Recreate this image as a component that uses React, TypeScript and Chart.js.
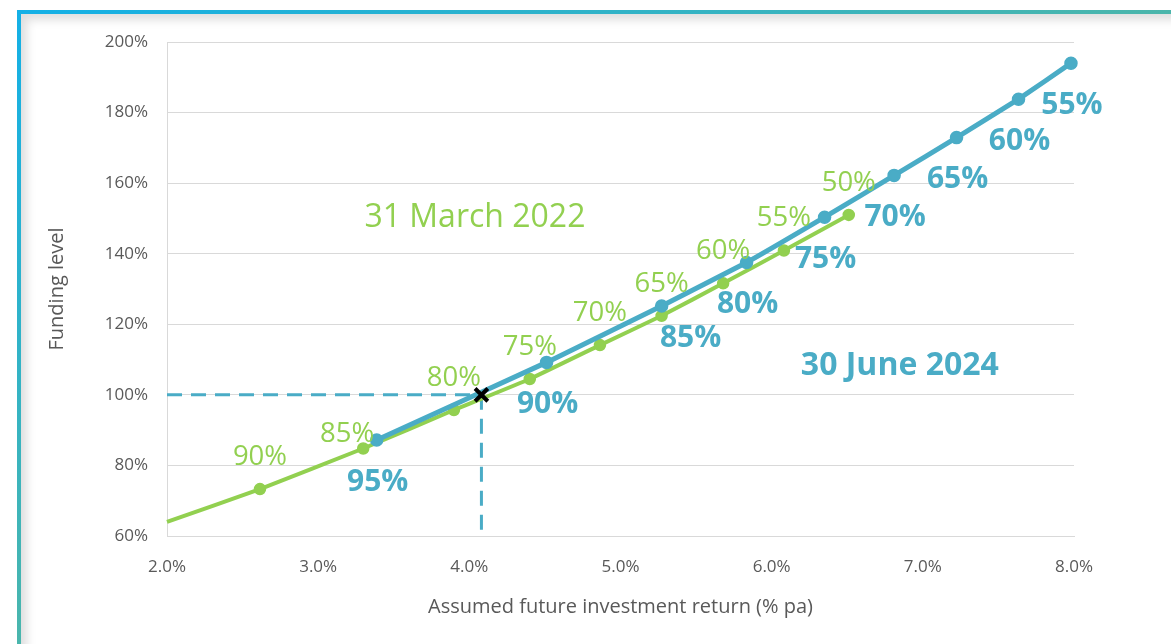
import React, { useEffect, useRef } from 'react';
import { Chart, registerables } from 'chart.js';

Chart.register(...registerables);

// ---- Data ----
// 31 March 2022 series (green)
const march2022Returns = [2.0, 2.615, 3.298, 3.898, 4.4, 4.864, 5.272, 5.679, 6.081, 6.51];
const march2022Funding = [64.0, 73.3, 84.8, 95.7, 104.5, 114.1, 122.4, 131.6, 140.9, 151.0];
const march2022Labels = ['', '90%', '85%', '80%', '75%', '70%', '65%', '60%', '55%', '50%'];

// 30 June 2024 series (blue)
const june2024Returns = [3.387, 4.511, 5.272, 5.834, 6.35, 6.81, 7.223, 7.633, 7.98];
const june2024Funding = [87.2, 109.2, 125.2, 137.5, 150.35, 162.2, 172.9, 183.8, 194.0];
const june2024Labels = ['95%', '90%', '85%', '80%', '75%', '70%', '65%', '60%', '55%'];

// 100% funding break-even marker
const breakEvenReturn = [4.08];
const breakEvenFunding = [100];

// Axes
const xMin = 2, xMax = 8, xStep = 1;
const yMin = 60, yMax = 200, yStep = 20;

// Text annotations (data coordinates)
const annotationTexts = ['31 March 2022', '30 June 2024'];
const annotationReturns = [4.037, 6.848];
const annotationFunding = [150.9, 108.9];

// ---- Styles ----
const FONT = '"Open Sans", "Noto Sans", sans-serif';
const BLUE = '#4aacc6';
const GREEN = '#92d050';
const AXIS_TEXT = '#595959';
const GRID = '#d9d9d9';

const annotationStyles = [
  { color: GREEN, weight: '400', size: 32 },
  { color: BLUE, weight: '700', size: 32 },
];

const greenLabelStyle = {
  color: GREEN, weight: '400', size: 27.5, dx: 0, dy: -34,
  nudges: { '85%': { dx: -16, dy: -16 } } as Record<string, { dx: number; dy: number }>,
};
const blueLabelStyle = {
  color: BLUE, weight: '700', size: 30, dx: 1, dy: 40,
  nudges: { '85%': { dx: 29, dy: 30 } } as Record<string, { dx: number; dy: number }>,
};

const toPoints = (xs: number[], ys: number[]) => xs.map((x, i) => ({ x, y: ys[i] }));

const labelPlugin = {
  id: 'pointTextLabels',
  afterDatasetsDraw(chart: any) {
    const ctx = chart.ctx as CanvasRenderingContext2D;
    chart.data.datasets.forEach((ds: any, i: number) => {
      if (!ds.pointTexts) return;
      const meta = chart.getDatasetMeta(i);
      const st = ds.pointTextStyle;
      ctx.save();
      ctx.font = `${st.weight} ${st.size}px ${FONT}`;
      ctx.fillStyle = st.color;
      ctx.textAlign = 'center';
      ctx.textBaseline = 'alphabetic';
      meta.data.forEach((el: any, j: number) => {
        const text = ds.pointTexts[j];
        if (!text) return;
        const n = st.nudges[text] || { dx: st.dx, dy: st.dy };
        ctx.fillText(text, el.x + n.dx, el.y + n.dy + st.size * 0.357);
      });
      ctx.restore();
    });
    const xs = chart.scales.x;
    const ys = chart.scales.y;
    annotationTexts.forEach((t, i) => {
      const st = annotationStyles[i];
      ctx.save();
      ctx.font = `${st.weight} ${st.size}px ${FONT}`;
      ctx.fillStyle = st.color;
      ctx.textAlign = 'center';
      ctx.textBaseline = 'alphabetic';
      const px = xs.getPixelForValue(annotationReturns[i]);
      const py = ys.getPixelForValue(annotationFunding[i]);
      ctx.fillText(t, px, py + st.size * 0.357);
      ctx.restore();
    });
  },
};

export default function App() {
  const ref = useRef<HTMLCanvasElement>(null);

  useEffect(() => {
    if (!ref.current) return;
    const chart = new Chart(ref.current, {
      type: 'line',
      data: {
        datasets: [
          {
            label: 'Break-even',
            data: toPoints(breakEvenReturn, breakEvenFunding),
            showLine: false,
            pointStyle: 'crossRot',
            pointRadius: 9,
            pointBorderWidth: 4,
            borderColor: '#000',
            backgroundColor: '#000',
            clip: false,
            order: 0,
          },
          {
            label: '30 June 2024',
            data: toPoints(june2024Returns, june2024Funding),
            borderColor: BLUE,
            backgroundColor: BLUE,
            borderWidth: 5,
            pointRadius: 6,
            pointBorderWidth: 1.5,
            pointBorderColor: BLUE,
            pointBackgroundColor: BLUE,
            tension: 0.1,
            clip: false,
            order: 1,
            pointTexts: june2024Labels,
            pointTextStyle: blueLabelStyle,
          } as any,
          {
            label: '31 March 2022',
            data: toPoints(march2022Returns, march2022Funding),
            borderColor: GREEN,
            backgroundColor: GREEN,
            borderWidth: 4,
            pointRadius: march2022Labels.map((l) => (l ? 5.5 : 0)),
            pointBorderWidth: 1.5,
            pointBorderColor: GREEN,
            pointBackgroundColor: GREEN,
            tension: 0.1,
            clip: false,
            order: 2,
            pointTexts: march2022Labels,
            pointTextStyle: greenLabelStyle,
          } as any,
          {
            label: 'guide-h',
            data: [
              { x: xMin, y: breakEvenFunding[0] },
              { x: breakEvenReturn[0], y: breakEvenFunding[0] },
            ],
            borderColor: BLUE,
            borderWidth: 3,
            borderDash: [15, 9],
            pointRadius: 0,
            order: 3,
          },
          {
            label: 'guide-v',
            data: [
              { x: breakEvenReturn[0], y: breakEvenFunding[0] },
              { x: breakEvenReturn[0], y: yMin },
            ],
            borderColor: BLUE,
            borderWidth: 3,
            borderDash: [15, 9],
            pointRadius: 0,
            order: 3,
          },
        ],
      },
      options: {
        animation: false,
        responsive: false,
        devicePixelRatio: 1,
        layout: { padding: { left: 0, top: 42, right: 97, bottom: 0 } },
        plugins: { legend: { display: false }, tooltip: { enabled: false } },
        scales: {
          x: {
            type: 'linear',
            min: xMin,
            max: xMax,
            grid: { display: false, drawTicks: false },
            border: { display: true, color: GRID, width: 1 },
            ticks: {
              stepSize: xStep,
              padding: 21,
              color: AXIS_TEXT,
              font: { family: FONT, size: 17 },
              callback: (v: any) => Number(v).toFixed(1) + '%',
            },
            title: {
              display: true,
              text: 'Assumed future investment return (% pa)',
              color: AXIS_TEXT,
              font: { family: FONT, size: 20 },
              padding: { top: 0, bottom: 25 },
            },
            afterFit: (s: any) => { s.width; s.height = 108; },
          },
          y: {
            type: 'linear',
            min: yMin,
            max: yMax,
            grid: { color: GRID, lineWidth: 1, drawTicks: false },
            border: { display: true, color: GRID, width: 1 },
            ticks: {
              stepSize: yStep,
              padding: 19,
              color: AXIS_TEXT,
              font: { family: FONT, size: 17 },
              callback: (v: any) => v + '%',
            },
            title: {
              display: true,
              text: 'Funding level',
              color: AXIS_TEXT,
              font: { family: FONT, size: 20 },
              padding: { top: 45, bottom: 0 },
            },
            afterFit: (s: any) => { s.width = 167; },
          },
        },
      },
      plugins: [labelPlugin],
    } as any);
    return () => chart.destroy();
  }, []);

  return (
    <div style={{ position: 'fixed', left: 0, top: 0, width: 1171, height: 644, background: '#fff', overflow: 'hidden' }}>
      <div
        style={{
          position: 'absolute',
          left: 17,
          top: 10,
          width: 1190,
          height: 670,
          boxSizing: 'border-box',
          borderStyle: 'solid',
          borderWidth: '4px 0 0 4px',
          borderImage: 'linear-gradient(to bottom right, #14b0e6 0%, #4db6a9 50%, #4db6a9 100%) 1',
          boxShadow: 'inset 6px 6px 10px rgba(0,0,0,0.13)',
          background: '#fff',
        }}
      />
      <canvas ref={ref} width={1171} height={644} style={{ position: 'absolute', left: 0, top: 0, width: 1171, height: 644 }} />
    </div>
  );
}
